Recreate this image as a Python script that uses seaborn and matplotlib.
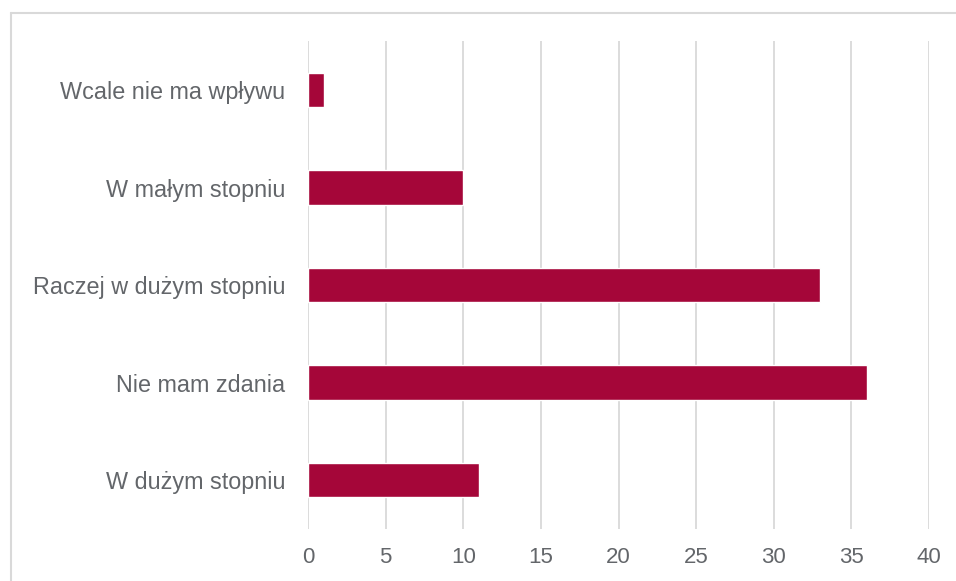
import matplotlib
matplotlib.use("Agg")
import matplotlib.pyplot as plt
import seaborn as sns
import pandas as pd
from matplotlib.lines import Line2D

categories = ["Wcale nie ma wpływu", "W małym stopniu", "Raczej w dużym stopniu",
              "Nie mam zdania", "W dużym stopniu"]
values = [1, 10, 33, 36, 11]
xticks = [0, 5, 10, 15, 20, 25, 30, 35, 40]

sns.set_theme(style="white")
plt.rcParams['font.family'] = ['Liberation Sans', 'DejaVu Sans']

df = pd.DataFrame({"cat": categories, "val": values})

fig = plt.figure(figsize=(9.56, 5.81), dpi=100)
ax = fig.add_axes([308/956, 1-528.75/581, (929-308)/956, (528.75-41.25)/581])

sns.barplot(data=df, x="val", y="cat", orient="h", color="#A50639",
            width=0.35, saturation=1, ax=ax, zorder=3)

ax.set_xlim(0, 40)
ax.set_xticks(xticks)
ax.set_xticklabels([str(t) for t in xticks])
ax.set_xlabel("")
ax.set_ylabel("")
for s in ax.spines.values():
    s.set_visible(False)
ax.grid(axis="x", color="#d9d9d9", linewidth=1.3, zorder=0)
ax.grid(axis="y", visible=False)
ax.tick_params(axis="x", length=0, pad=13, labelsize=16, labelcolor="#63666a")
ax.tick_params(axis="y", length=0, pad=16.5, labelsize=16.8, labelcolor="#63666a")

# outer border (partially cropped)
fig.add_artist(Line2D([11/956, 1.0], [1-13/581, 1-13/581], transform=fig.transFigure,
                      color="#d9d9d9", linewidth=1.5))
fig.add_artist(Line2D([11/956, 11/956], [0.0, 1-13/581], transform=fig.transFigure,
                      color="#d9d9d9", linewidth=1.5))

fig.savefig("out.png", dpi=100)
